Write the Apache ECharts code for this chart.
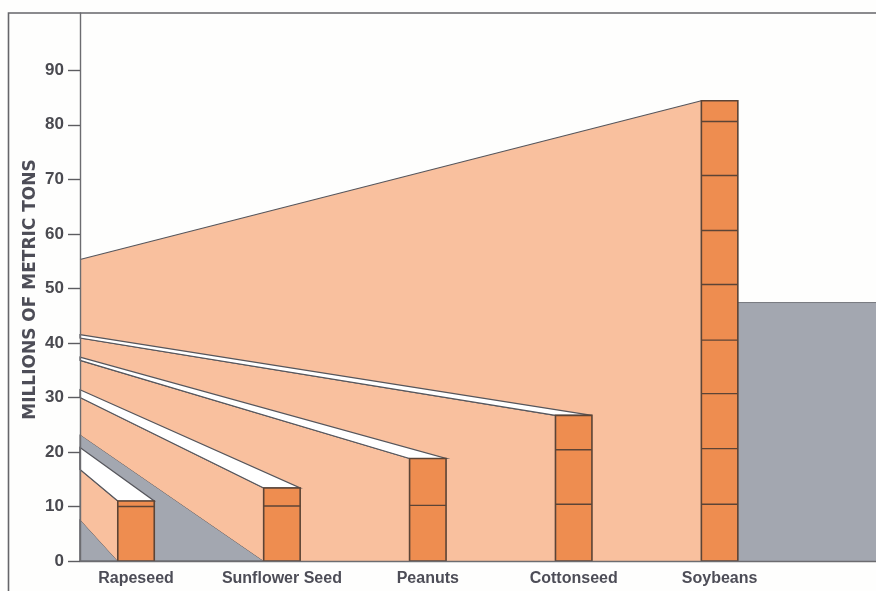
<!DOCTYPE html>
<html>
<head>
<meta charset="utf-8">
<style>
  html, body { margin: 0; padding: 0; background: #fefefd; }
  #chart { width: 876px; height: 591px; }
</style>
<script src="https://cdn.jsdelivr.net/npm/echarts@6/dist/echarts.min.js"></script>
</head>
<body>
<div id="chart"></div>
<script>
// World oilseed production, millions of metric tons
const categories = ['Rapeseed', 'Sunflower Seed', 'Peanuts', 'Cottonseed', 'Soybeans'];
const totals = [11, 13.4, 18.8, 26.7, 84.4];
// Where each band meets the vertical axis: top of the white strip, top of the face, foot of the face
const bandTopAtAxis = [20.8, 31.4, 37.4, 41.5, 55.3];
const bandFaceAtAxis = [16.8, 30, 36.8, 40.9, 55.3];
const bandFootAtAxis = [7.6, 23.2, 0, 0, 0];
// Hand-ruled divisions inside each column
const rulesRapeseed = [10];
const rulesSunflower = [10.1];
const rulesPeanuts = [10.2];
const rulesCottonseed = [10.4, 20.4];
const rulesSoybeans = [10.4, 20.6, 30.7, 40.5, 50.7, 60.6, 70.7, 80.6];
const columnRules = [rulesRapeseed, rulesSunflower, rulesPeanuts, rulesCottonseed, rulesSoybeans];
// Level of the grey panel to the right of the last column
const panelLevel = 47.4;
const yTicks = [0, 10, 20, 30, 40, 50, 60, 70, 80, 90];
const xSlots = [0, 1, 2, 3, 4];

const X_MIN = -0.384, X_MAX = 5.072, Y_MAX = 100.5, COLUMN = 0.25;
const PEACH = '#f9c09e', ORANGE = '#ee8d50', GREY = '#a3a7b0', INK = '#56565c', BRICK = '#5c4436';

function poly(points, fill, stroke, width) {
  return {
    type: 'polygon',
    shape: { points: points },
    style: { fill: fill, stroke: stroke || null, lineWidth: width || 0, lineJoin: 'miter' }
  };
}

function drawBand(params, api) {
  const i = api.value(0);
  const total = totals[i];
  const left = X_MIN;
  const xa = i - COLUMN / 2, xb = i + COLUMN / 2;
  const c = (x, y) => api.coord([x, y]);
  const kids = [];
  const foot = bandFootAtAxis[i];
  if (foot > 0) {
    kids.push(poly([c(left, foot), c(xa, 0), c(left, 0)], GREY, INK, 1));
  }
  kids.push(poly([c(left, bandFaceAtAxis[i]), c(xa, total), c(xa, 0), c(left, foot)], PEACH));
  // Edges of the face are stroked on their own so the column side stays clean
  kids.push({
    type: 'polyline',
    shape: { points: [c(left, bandFaceAtAxis[i]), c(xa, total)] },
    style: { stroke: INK, lineWidth: 1.2, fill: null }
  });
  if (bandTopAtAxis[i] > bandFaceAtAxis[i]) {
    kids.push(poly([c(left, bandTopAtAxis[i]), c(xb, total), c(xa, total), c(left, bandFaceAtAxis[i])], '#ffffff', INK, 1.2));
  }
  // Column and its divisions
  kids.push(poly([c(xa, total), c(xb, total), c(xb, 0), c(xa, 0)], ORANGE, BRICK, 1.6));
  columnRules[i].forEach(function (v) {
    kids.push({
      type: 'line',
      shape: { x1: c(xa, v)[0], y1: c(xa, v)[1], x2: c(xb, v)[0], y2: c(xb, v)[1] },
      style: { stroke: BRICK, lineWidth: 1.4 }
    });
  });
  return { type: 'group', children: kids };
}

function drawPanel(params, api) {
  const last = categories.length - 1;
  const xa = last + COLUMN / 2;
  const p = [api.coord([xa, panelLevel]), api.coord([X_MAX, panelLevel]), api.coord([X_MAX, 0]), api.coord([xa, 0])];
  return {
    type: 'group',
    children: [
      poly(p, GREY),
      { type: 'polyline', shape: { points: [p[0], p[1]] }, style: { stroke: '#77797f', lineWidth: 1, fill: null } }
    ]
  };
}

const chart = echarts.init(document.getElementById('chart'), null, { renderer: 'canvas' });
const page = { w: 876, h: 591 };

chart.setOption({
  animation: false,
  backgroundColor: '#fefefd',
  grid: { left: 80, right: 0, top: 13, bottom: 30 },
  xAxis: {
    type: 'value',
    min: X_MIN,
    max: X_MAX,
    z: 5,
    splitLine: { show: false },
    axisTick: { show: false },
    axisLine: { show: true, onZero: false, lineStyle: { color: '#6c6c70', width: 1.4 } },
    axisLabel: {
      customValues: xSlots,
      formatter: v => categories[v],
      margin: 10,
      color: '#4d4d57',
      fontFamily: 'Liberation Sans',
      fontWeight: 'bold',
      fontSize: 16
    }
  },
  yAxis: {
    type: 'value',
    min: 0,
    max: Y_MAX,
    z: 5,
    name: 'MILLIONS OF METRIC TONS',
    nameLocation: 'middle',
    nameMoveOverlap: false,
    nameGap: 41,
    nameTextStyle: {
      color: '#4d4d57',
      fontFamily: 'DejaVu Sans',
      fontWeight: 'bold',
      fontSize: 17,
      padding: [0, 5, 0, 0]
    },
    splitLine: { show: false },
    axisLine: { show: true, onZero: false, lineStyle: { color: '#6c6c70', width: 1.4 } },
    axisTick: { show: true, length: 12, customValues: yTicks, lineStyle: { color: '#5c5c60', width: 1.4 } },
    axisLabel: {
      customValues: yTicks,
      margin: 16,
      color: '#4a4a50',
      fontFamily: 'Liberation Sans',
      fontWeight: 'bold',
      fontSize: 17
    }
  },
  series: [
    {
      type: 'custom',
      coordinateSystem: 'cartesian2d',
      renderItem: drawPanel,
      data: [[0]],
      silent: true,
      z: 1
    },
    {
      type: 'custom',
      coordinateSystem: 'cartesian2d',
      renderItem: drawBand,
      // Largest band first, so the nearer ones paint over it
      data: categories.map((_, i) => [i]).reverse(),
      silent: true,
      z: 2
    }
  ],
  graphic: [
    {
      type: 'polyline',
      silent: true,
      shape: { points: [[8.5, page.h], [8.5, 13], [page.w, 13]] },
      style: { stroke: '#66666a', lineWidth: 1.6, fill: null }
    }
  ]
});
</script>
</body>
</html>
